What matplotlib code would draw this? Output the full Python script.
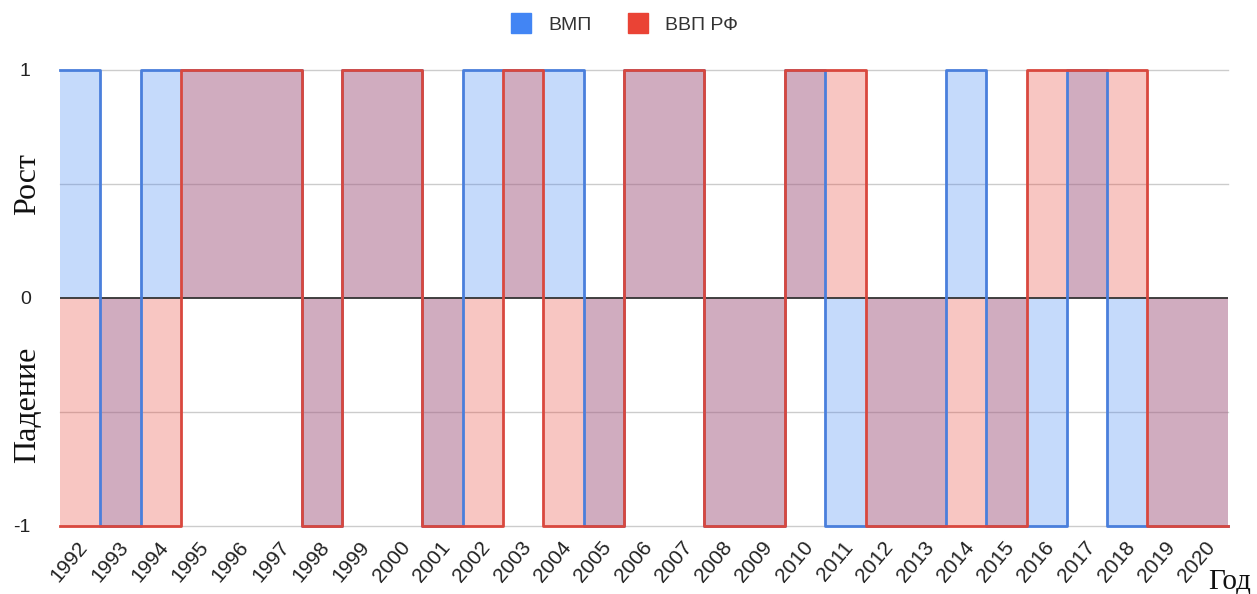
import numpy as np
import matplotlib
matplotlib.use("Agg")
import matplotlib.pyplot as plt
from matplotlib.lines import Line2D
from matplotlib.transforms import ScaledTranslation

# years and growth (+1) / decline (-1) for each series
years = [str(y) for y in range(1992, 2021)]
vmp = [1, -1, 1, 1, 1, 1, -1, 1, 1, -1, 1, 1, 1, -1, 1, 1, -1, -1, 1, -1,
       -1, -1, 1, -1, -1, 1, -1, -1, -1]
vvp = [-1, -1, -1, 1, 1, 1, -1, 1, 1, -1, -1, 1, -1, -1, 1, 1, -1, -1, 1, 1,
       -1, -1, -1, -1, 1, 1, 1, -1, -1]

blue_line = '#4a7fdc'
red_line = '#d9483e'
blue_fill = '#4285f4'
red_fill = '#ea4335'
sans = 'Liberation Sans'
serif = 'Liberation Serif'

fig = plt.figure(figsize=(12.57, 5.94), dpi=100)
ax = fig.add_axes([60 / 1257, 1 - 526 / 594, 1168 / 1257, 456 / 594])

n = len(years)
edges = np.arange(n + 1)

# gridlines
for g in [1, 0.5, -0.5, -1]:
    ax.axhline(g, color='#cccccc', lw=1, zorder=0, clip_on=False)

# filled step areas
ax.fill_between(edges, 0, vmp + [vmp[-1]], step='post', color=blue_fill,
                alpha=0.3, lw=0, zorder=1)
ax.fill_between(edges, 0, vvp + [vvp[-1]], step='post', color=red_fill,
                alpha=0.3, lw=0, zorder=2)

ax.axhline(0, color='#333333', lw=1.3, zorder=3)

# step outlines
ax.step(edges, vmp + [vmp[-1]], where='post', color=blue_line, lw=2,
        zorder=4, clip_on=False)
ax.step(edges, vvp + [vvp[-1]], where='post', color=red_line, lw=2,
        zorder=5, clip_on=False)

ax.set_xlim(0, n)
ax.set_ylim(-1, 1)

ax.set_yticks([1, 0, -1])
ax.set_yticklabels(['1', '0', '-1'], fontsize=14, color='#222222',
                   family=sans)
ax.tick_params(axis='y', length=0, pad=21)

ax.set_xticks(np.arange(n) + 0.5)
ax.set_xticklabels(years, fontsize=15, color='#222222', rotation=50,
                   ha='right', va='top', rotation_mode='anchor', family=sans)
ax.tick_params(axis='x', length=0, pad=0)
offset = ScaledTranslation(-3 / 100, -12 / 100, fig.dpi_scale_trans)
for lbl in ax.get_xticklabels():
    lbl.set_transform(lbl.get_transform() + offset)

for s in ax.spines.values():
    s.set_visible(False)

# axis titles
fig.text(28 / 1257, 1 - 184 / 594, 'Рост', rotation=90, ha='center',
         va='center', fontsize=23, family=serif, color='#111111')
fig.text(28 / 1257, 1 - 405 / 594, 'Падение', rotation=90, ha='center',
         va='center', fontsize=23, family=serif, color='#111111')
fig.text(1251 / 1257, 1 - 588 / 594, 'Год', ha='right', va='baseline',
         fontsize=21, family=serif, color='#111111')

# legend
handles = [
    Line2D([], [], marker='s', ls='none', markersize=14, color='#4285f4'),
    Line2D([], [], marker='s', ls='none', markersize=14, color='#ea4335'),
]
fig.legend(handles, ['ВМП', 'ВВП РФ'], loc='center', ncol=2,
           bbox_to_anchor=(620 / 1257, 1 - 25 / 594), frameon=False,
           prop={'family': sans, 'size': 14}, handletextpad=0.4,
           columnspacing=1.4, labelcolor='#333333')

fig.savefig('out.png', dpi=100)
